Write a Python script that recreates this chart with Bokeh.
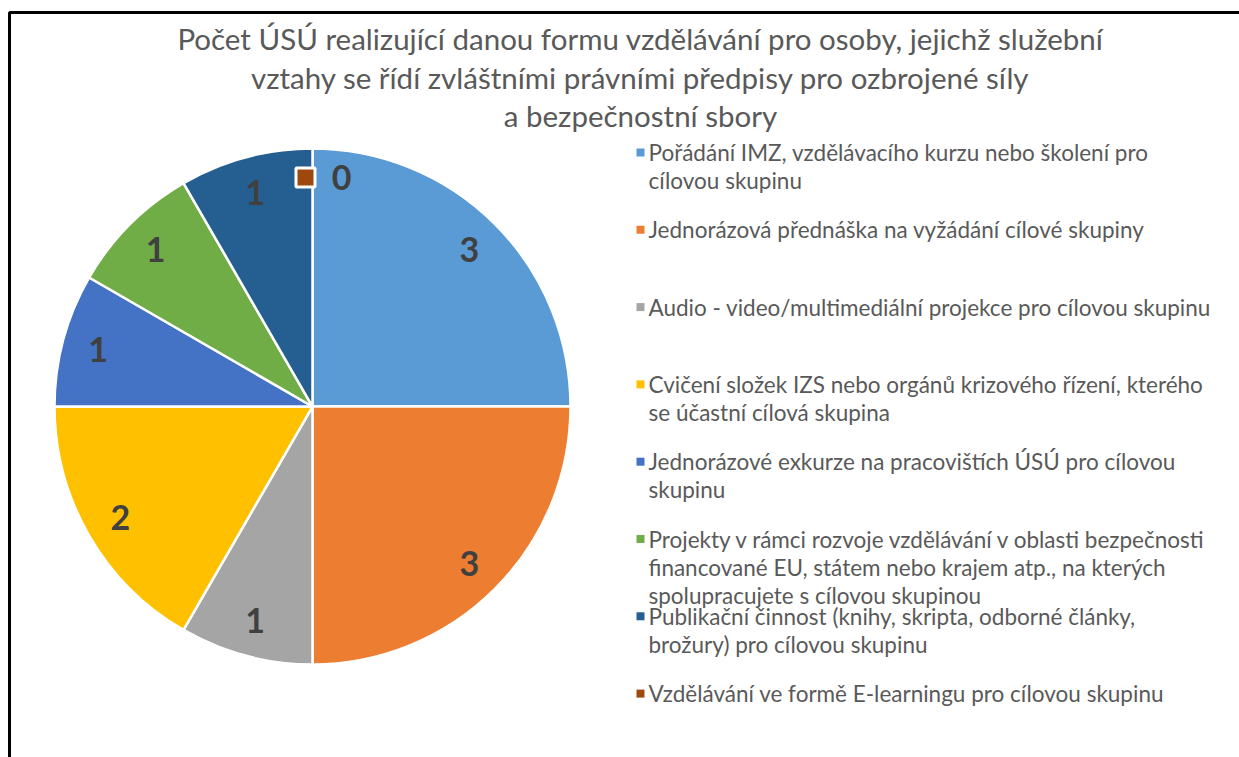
from bokeh.plotting import figure
from bokeh.models import ColumnDataSource, Range1d
from bokeh.core.properties import value
from bokeh.embed import file_html
from bokeh.resources import INLINE
import numpy as np

# ---- data ----
categories = [
    "Pořádání IMZ, vzdělávacího kurzu nebo školení pro cílovou skupinu",
    "Jednorázová přednáška na vyžádání cílové skupiny",
    "Audio - video/multimediální projekce pro cílovou skupinu",
    "Cvičení složek IZS nebo orgánů krizového řízení, kterého se účastní cílová skupina",
    "Jednorázové exkurze na pracovištích ÚSÚ pro cílovou skupinu",
    "Projekty v rámci rozvoje vzdělávání v oblasti bezpečnosti financované EU, státem nebo krajem atp., na kterých spolupracujete s cílovou skupinou",
    "Publikační činnost (knihy, skripta, odborné články, brožury) pro cílovou skupinu",
    "Vzdělávání ve formě E-learningu pro cílovou skupinu",
]
legend_lines = [
    ["Pořádání IMZ, vzdělávacího kurzu nebo školení pro", "cílovou skupinu"],
    ["Jednorázová přednáška na vyžádání cílové skupiny"],
    ["Audio - video/multimediální projekce pro cílovou skupinu"],
    ["Cvičení složek IZS nebo orgánů krizového řízení, kterého", "se účastní cílová skupina"],
    ["Jednorázové exkurze na pracovištích ÚSÚ pro cílovou", "skupinu"],
    ["Projekty v rámci rozvoje vzdělávání v oblasti bezpečnosti", "financované EU, státem nebo krajem atp., na kterých", "spolupracujete s cílovou skupinou"],
    ["Publikační činnost (knihy, skripta, odborné články,", "brožury) pro cílovou skupinu"],
    ["Vzdělávání ve formě E-learningu pro cílovou skupinu"],
]
counts = [3, 3, 1, 2, 1, 1, 1, 0]
colors = ["#5B9BD5", "#ED7D31", "#A5A5A5", "#FFC000", "#4472C4", "#70AD47", "#255E91", "#9E480E"]
title_lines = [
    "Počet ÚSÚ realizující danou formu vzdělávání pro osoby, jejichž služební",
    "vztahy se řídí zvláštními právními předpisy pro ozbrojené síly",
    "a bezpečnostní sbory",
]

W, H = 1239, 757
FONT = "Lato"
TXT = "#595959"

p = figure(width=W, height=H, x_range=Range1d(0, W), y_range=Range1d(0, H),
           output_backend="svg", toolbar_location=None, min_border=0)
p.axis.visible = False
p.grid.visible = False
p.outline_line_color = None
p.background_fill_color = "white"

def sx(x):  # screen x -> data x
    return x
def sy(y):  # screen y -> data y
    return H - y

# frame (left and top edges visible)
p.line([sx(9), sx(9), sx(1260)], [sy(780), sy(12), sy(12)], line_color="black", line_width=3)

# ---- pie ----
cx, cy, R = sx(312), sy(406), 258
vals = np.array(counts, dtype=float)
total = vals.sum()
cum_end = np.cumsum(vals)
cum_start = cum_end - vals
start = np.pi / 2 - 2 * np.pi * cum_start / total
end = np.pi / 2 - 2 * np.pi * cum_end / total
nz = [i for i, c in enumerate(counts) if c > 0]
z = [i for i, c in enumerate(counts) if c == 0]
src = ColumnDataSource(dict(start=start[nz], end=end[nz], color=[colors[i] for i in nz]))
p.wedge(x=cx, y=cy, radius=R, start_angle="start", end_angle="end", direction="clock",
        fill_color="color", line_color="white", line_width=2.5, source=src)

# data labels
mid = (start + end) / 2
rl = 0.86 * R
lx = cx + rl * np.cos(mid)
ly = cy + rl * np.sin(mid)
lab_txt = [str(c) for c in counts]
p.text(x=[lx[i] for i in nz], y=[ly[i] for i in nz], text=[lab_txt[i] for i in nz],
       text_font=value(FONT), text_font_style="bold", text_font_size="34px",
       text_color="#404040", text_align="center", text_baseline="middle")
# zero label shows its legend key
for i in z:
    p.scatter(x=[lx[i] - 7], y=[ly[i] + 7], marker="square", size=19, fill_color=colors[i],
              line_color="white", line_width=3)
    p.text(x=[lx[i] + 29], y=[ly[i] + 7], text=[lab_txt[i]],
           text_font=value(FONT), text_font_style="bold", text_font_size="34px",
           text_color="#404040", text_align="center", text_baseline="middle")

# ---- title ----
p.text(x=[sx(640)] * 3, y=[sy(38), sy(76.5), sy(115)], text=title_lines,
       text_font=value(FONT), text_font_size="29.5px", text_color=TXT,
       text_align="center", text_baseline="middle")

# ---- legend ----
y0, step, lh = 152, 77.3, 28
for i, lines in enumerate(legend_lines):
    yy = y0 + i * step
    p.rect(x=sx(640), y=sy(yy), width=8, height=8, fill_color=colors[i], line_color=None)
    p.text(x=[sx(648)] * len(lines), y=[sy(yy + k * lh) for k in range(len(lines))], text=lines,
           text_font=value(FONT), text_font_size="22.5px", text_color=TXT,
           text_align="left", text_baseline="middle")

open("out.html", "w").write(file_html(p, INLINE))
